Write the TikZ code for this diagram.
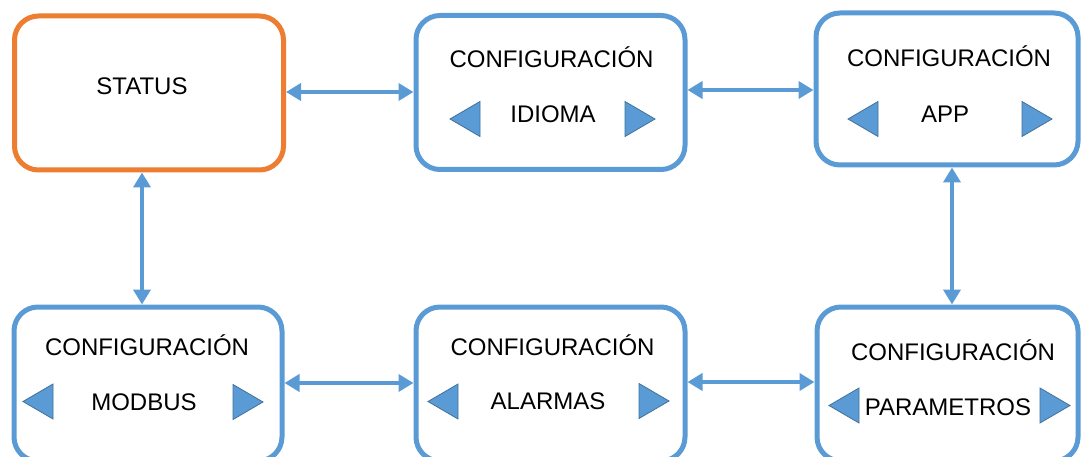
\documentclass[tikz,border=0pt]{standalone}
\usepackage{fontspec}
\setmainfont{Liberation Sans}
\usepackage{tikz}
\usetikzlibrary{arrows.meta}
\definecolor{naranja}{HTML}{ED7D31}
\definecolor{azul}{HTML}{5B9BD5}
\definecolor{azulosc}{HTML}{41719C}

\tikzset{
  flechaizq/.pic={\filldraw[fill=azul, draw=azulosc, line width=0.8pt] (0,0) -- (30,-17.5) -- (30,17.5) -- cycle;},
  flechader/.pic={\filldraw[fill=azul, draw=azulosc, line width=0.8pt] (0,0) -- (-30,-17.5) -- (-30,17.5) -- cycle;}
}

\begin{document}
\begin{tikzpicture}[x=1pt, y=-1pt, <->, >={Triangle[length=15pt, width=17pt]}, font=\fontsize{24}{29}\selectfont]
  \tikzstyle{pantalla}=[rectangle, rounded corners=24pt, draw=azul, line width=5pt, fill=white, minimum width=269pt, minimum height=154pt]
  \tikzstyle{texto}=[anchor=base, inner sep=0pt, text=black]
  \tikzstyle{enlace}=[draw=azul, line width=4pt]

  \clip (0,0) rectangle (1081,457);

	\node[pantalla, draw=naranja] (status) at (149,93) {};
	\node[pantalla]               (idioma) at (550.5,92.5) {};
	\node[pantalla, minimum width=262pt, minimum height=152pt] (app) at (947,89) {};
	\node[pantalla, minimum width=268pt] (modbus) at (148,384) {};
	\node[pantalla]               (alarmas) at (550.5,384) {};
	\node[pantalla, minimum width=261pt] (parametros) at (947.5,384) {};

	% textos
	\node[texto] (t0) at (142,95) {STATUS};
	\node[texto] (t1a) at (551.5,68) {CONFIGURACIÓN};
	\node[texto] (t1b) at (553,123) {IDIOMA};
	\node[texto] (t2a) at (949,67) {CONFIGURACIÓN};
	\node[texto] (t2b) at (945,123) {APP};
	\node[texto] (t3a) at (147,355) {CONFIGURACIÓN};
	\node[texto] (t3b) at (144,410) {MODBUS};
	\node[texto] (t4a) at (552.5,355) {CONFIGURACIÓN};
	\node[texto] (t4b) at (548,409) {ALARMAS};
	\node[texto] (t5a) at (953,360) {CONFIGURACIÓN};
	\node[texto] (t5b) at (948,415) {PARAMETROS};

	% flechas de menu
	\pic at (450,119) {flechaizq};
	\pic at (655,119) {flechader};
	\pic at (848,119) {flechaizq};
	\pic at (1052,119) {flechader};
	\pic at (23,401.5) {flechaizq};
	\pic at (263,402) {flechader};
	\pic at (428,401.5) {flechaizq};
	\pic at (669,401) {flechader};
	\pic at (829,405.5) {flechaizq};
	\pic at (1070,405.5) {flechader};

	\path
		([yshift=1pt]status.east) edge [enlace] ([yshift=0.5pt]idioma.west)
		([yshift=2.5pt]idioma.east) edge [enlace] ([yshift=-1pt]app.west)
		([xshift=-7pt]status.south) edge [enlace] ([xshift=-6pt]modbus.north)
		([xshift=5pt]app.south) edge [enlace] ([xshift=4.5pt]parametros.north)
		([yshift=1pt]modbus.east) edge [enlace] ([yshift=1pt]alarmas.west)
		([yshift=2pt]alarmas.east) edge [enlace] ([yshift=2pt]parametros.west)
		;

\end{tikzpicture}
\end{document}
